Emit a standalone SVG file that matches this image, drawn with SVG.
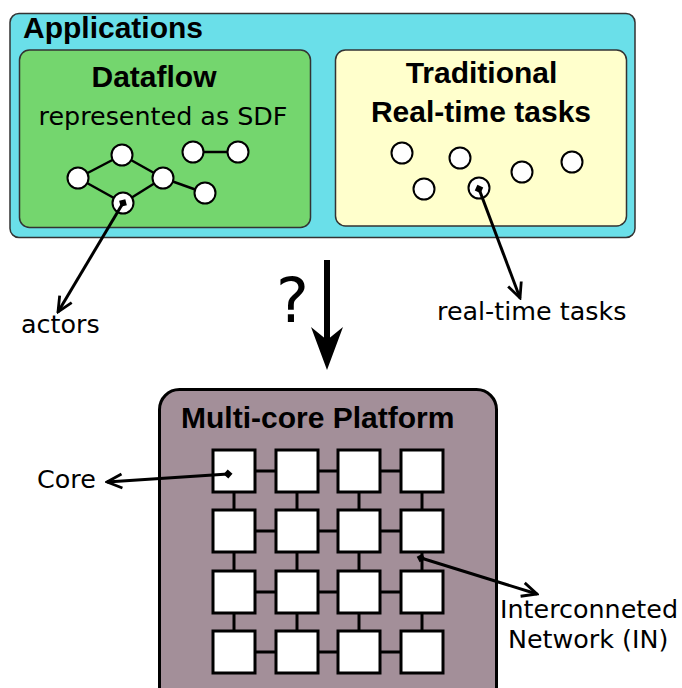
<svg xmlns="http://www.w3.org/2000/svg" width="682" height="688" viewBox="0 0 682 688">
  <style>
    .bold { font-family: "Liberation Sans", Arial, sans-serif; font-weight: bold; font-size: 30px; fill: #000; }
    .reg { font-family: "DejaVu Sans", sans-serif; font-size: 25.4px; fill: #000; }
    .node { fill: #fff; stroke: #000; stroke-width: 2; }
    .edge { stroke: #000; stroke-width: 2.5; fill: none; }
    .core { fill: #fff; stroke: #000; stroke-width: 3; }
    .link { stroke: #000; stroke-width: 3; }
    .ptr { stroke: #000; stroke-width: 3; fill: none; }
  </style>
  <defs>
    <marker id="open-arrow" viewBox="-18 -9 20 18" refX="0" refY="0" markerWidth="20" markerHeight="18" markerUnits="userSpaceOnUse" orient="auto">
      <path d="M-15,-7 L0,0 L-15,7" fill="none" stroke="#000" stroke-width="2.8"/>
    </marker>
    <marker id="dot" viewBox="-5 -5 10 10" refX="0" refY="0" markerWidth="10" markerHeight="10" markerUnits="userSpaceOnUse" orient="auto">
      <path d="M-4.5,0 L0,-4.5 L4.5,0 L0,4.5 z" fill="#000"/>
    </marker>
    <marker id="big-arrow" viewBox="-45 -18 47 36" refX="-25" refY="0" markerWidth="47" markerHeight="36" markerUnits="userSpaceOnUse" orient="auto">
      <path d="M0,0 L-43,-16 L-30,0 L-43,16 z" fill="#000"/>
    </marker>
  </defs>

  <!-- Applications container -->
  <g id="applications">
    <rect x="10" y="13.5" width="625" height="224" rx="9" fill="#6adfe9" stroke="#333" stroke-width="1.5"/>
    <text class="bold" x="23" y="38">Applications</text>
  </g>

  <!-- Dataflow (SDF) application -->
  <g id="dataflow">
    <rect x="19.5" y="50" width="291" height="177.5" rx="10" fill="#74d66e" stroke="#333" stroke-width="1.5"/>
    <text class="bold" x="154" y="87" text-anchor="middle">Dataflow</text>
    <text class="reg" x="163" y="125" text-anchor="middle">represented as SDF</text>
    <g id="sdf-edges">
      <line class="edge" x1="78" y1="178" x2="122" y2="155"/>
      <line class="edge" x1="78" y1="178" x2="123" y2="203"/>
      <line class="edge" x1="122" y1="155" x2="163" y2="178"/>
      <line class="edge" x1="123" y1="203" x2="163" y2="178"/>
      <line class="edge" x1="163" y1="178" x2="205" y2="193"/>
      <line class="edge" x1="193" y1="152" x2="238" y2="152"/>
    </g>
    <circle class="node" cx="78" cy="178" r="10.5"/>
    <circle class="node" cx="122" cy="155" r="10.5"/>
    <circle class="node" cx="163" cy="178" r="10.5"/>
    <circle class="node" cx="123" cy="203" r="10.5"/>
    <circle class="node" cx="205" cy="193" r="10.5"/>
    <circle class="node" cx="193" cy="152" r="10.5"/>
    <circle class="node" cx="238" cy="152" r="10.5"/>
  </g>

  <!-- Traditional real-time tasks -->
  <g id="realtime">
    <rect x="335.5" y="50" width="291" height="176" rx="10" fill="#ffffcc" stroke="#333" stroke-width="1.5"/>
    <text class="bold" x="481.5" y="83" text-anchor="middle">Traditional</text>
    <text class="bold" x="481" y="122" text-anchor="middle">Real-time tasks</text>
    <circle class="node" cx="402" cy="153" r="10.5"/>
    <circle class="node" cx="460" cy="158" r="10.5"/>
    <circle class="node" cx="522" cy="172" r="10.5"/>
    <circle class="node" cx="572" cy="162" r="10.5"/>
    <circle class="node" cx="424" cy="189" r="10.5"/>
    <circle class="node" cx="479" cy="188" r="10.5"/>
  </g>

  <!-- Multi-core platform -->
  <g id="platform">
    <rect x="159.5" y="389.5" width="337" height="320" rx="20" fill="#a38f99" stroke="#000" stroke-width="3"/>
    <text class="bold" x="181" y="428">Multi-core Platform</text>
    <g id="interconnect">
      <!-- horizontal links -->
      <line class="link" x1="234" y1="471" x2="422" y2="471"/>
      <line class="link" x1="234" y1="531" x2="422" y2="531"/>
      <line class="link" x1="234" y1="592" x2="422" y2="592"/>
      <line class="link" x1="234" y1="652" x2="422" y2="652"/>
      <!-- vertical links -->
      <line class="link" x1="234" y1="471" x2="234" y2="652"/>
      <line class="link" x1="297" y1="471" x2="297" y2="652"/>
      <line class="link" x1="359" y1="471" x2="359" y2="652"/>
      <line class="link" x1="422" y1="471" x2="422" y2="652"/>
    </g>
    <g id="cores">
      <rect class="core" x="213" y="450" width="42" height="42"/>
      <rect class="core" x="276" y="450" width="42" height="42"/>
      <rect class="core" x="338" y="450" width="42" height="42"/>
      <rect class="core" x="401" y="450" width="42" height="42"/>
      <rect class="core" x="213" y="510" width="42" height="42"/>
      <rect class="core" x="276" y="510" width="42" height="42"/>
      <rect class="core" x="338" y="510" width="42" height="42"/>
      <rect class="core" x="401" y="510" width="42" height="42"/>
      <rect class="core" x="213" y="571" width="42" height="42"/>
      <rect class="core" x="276" y="571" width="42" height="42"/>
      <rect class="core" x="338" y="571" width="42" height="42"/>
      <rect class="core" x="401" y="571" width="42" height="42"/>
      <rect class="core" x="213" y="631" width="42" height="42"/>
      <rect class="core" x="276" y="631" width="42" height="42"/>
      <rect class="core" x="338" y="631" width="42" height="42"/>
      <rect class="core" x="401" y="631" width="42" height="42"/>
    </g>
  </g>

  <!-- Labels -->
  <g id="labels">
    <text class="reg" x="21" y="333">actors</text>
    <text class="reg" x="437" y="320">real-time tasks</text>
    <text class="reg" x="37" y="488">Core</text>
    <text class="reg" x="500" y="618">Interconneted</text>
    <text class="reg" x="508" y="648">Network (IN)</text>
    <text class="reg" x="276" y="322" style="font-size:62px">?</text>
  </g>

  <!-- Connectors -->
  <g id="connectors">
    <line class="ptr" x1="123" y1="203" x2="58" y2="312" marker-start="url(#dot)" marker-end="url(#open-arrow)"/>
    <line class="ptr" x1="479" y1="189" x2="520" y2="298" marker-start="url(#dot)" marker-end="url(#open-arrow)"/>
    <line class="ptr" x1="228" y1="474" x2="107" y2="482" marker-start="url(#dot)" marker-end="url(#open-arrow)"/>
    <line class="ptr" x1="421" y1="558" x2="537" y2="594" marker-start="url(#dot)" marker-end="url(#open-arrow)"/>
    <line x1="327" y1="260" x2="327" y2="345" stroke="#000" stroke-width="6" marker-end="url(#big-arrow)"/>
  </g>
</svg>
